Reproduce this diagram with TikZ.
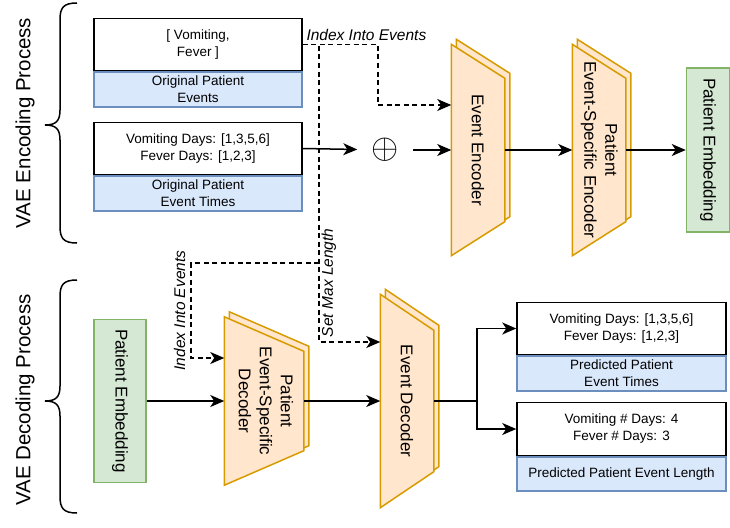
\documentclass[tikz,border=0pt]{standalone}
\usepackage{fontspec}
\setmainfont{Liberation Sans}
\usetikzlibrary{arrows.meta,positioning,backgrounds}
\definecolor{orfill}{HTML}{FFE6CC}
\definecolor{ordraw}{HTML}{D79B00}
\definecolor{blfill}{HTML}{DAE8FC}
\definecolor{bldraw}{HTML}{6C8EBF}
\definecolor{grfill}{HTML}{D5E8D4}
\definecolor{grdraw}{HTML}{82B366}
\begin{document}
\begin{tikzpicture}[x=1pt, y=-1pt, >={Stealth[length=14pt,width=12pt,inset=4pt]}, line width=1.5pt,
		small/.style={font=\fontsize{13.5}{17}\selectfont},
		valbox/.style={small, draw, fill=white, minimum width=208pt, minimum height=52pt, align=center, inner sep=0pt},
		namebox/.style={small, draw=bldraw, fill=blfill, minimum width=208pt, minimum height=35pt, align=center, inner sep=0pt},
		embbox/.style={draw=grdraw, fill=grfill, font=\fontsize{17}{21}\selectfont, inner sep=0pt},
		stackbox/.style={font=\fontsize{17}{21}\selectfont, inner sep=0pt},
		stack/.style={fill=orfill, draw=ordraw, line width=1.5pt},
		stackback/.style={stack, transform canvas={xshift=5pt, yshift=5pt}},
		hint/.style={font=\fontsize{15.5}{18}\selectfont\itshape, inner sep=3pt},
		hintline/.style={dash pattern=on 5pt off 3.5pt},
		side/.style={font=\fontsize{20.5}{24}\selectfont, rotate=90}]
	\useasboundingbox (0,0) rectangle (730,527);

	\draw (77,3) .. controls (63,3) and (60,8) .. (60,20) -- (60,110) .. controls (60,121) and (56,125) .. (45,125) .. controls (56,125) and (60,129) .. (60,140) -- (60,226) .. controls (60,238) and (63,243) .. (77,243);
	\node[side] (enclbl) at (25,123) {VAE Encoding Process};
	\draw (77,280) .. controls (63,280) and (60,285) .. (60,297) -- (60,386) .. controls (60,397) and (56,401) .. (45,401) .. controls (56,401) and (60,405) .. (60,416) -- (60,496) .. controls (60,508) and (63,513) .. (77,513);
	\node[side] (declbl) at (25,400) {VAE Decoding Process};

	\node[namebox] (evtsl) at (198,89.5) {Original Patient\\Events};
	\node[valbox, above=0pt of evtsl] (evts) {[ Vomiting,\\Fever ]};
	\node[namebox] (timesl) at (198,193.5) {Original Patient\\Event Times};
	\node[valbox, above=0pt of timesl] (times) {Vomiting Days: [1,3,5,6]\\Fever Days: [1,2,3]};

	\node[inner sep=0pt, minimum width=54pt, minimum height=20pt] (sum) at (385,150) {\scalebox{3.5}{$\oplus$}};
	\node[stackbox, minimum width=52pt, minimum height=210pt] (enc) at (478,150) {\rotatebox{-90}{Event Encoder}};
	\node[stackbox, minimum width=52pt, minimum height=210pt] (penc) at (599,150) {\rotatebox{-90}{\begin{tabular}{@{}c@{}}Patient\\Event-Specific Encoder\end{tabular}}};
	\node[embbox, minimum width=43pt, minimum height=164pt] (embA) at (708,150) {\rotatebox{-90}{Patient Embedding}};

	\node[embbox, minimum width=52pt, minimum height=163pt] (embB) at (120,401) {\rotatebox{-90}{Patient Embedding}};
	\node[stackbox, minimum width=78pt, minimum height=167pt] (pdec) at (264,401) {\rotatebox{-90}{\begin{tabular}{@{}c@{}}Patient\\Event-Specific\\Decoder\end{tabular}}};
	\node[stackbox, minimum width=52pt, minimum height=212pt] (dec) at (407,401) {\rotatebox{-90}{Event Decoder}};

	\node[namebox, minimum width=209pt] (predtl) at (621.5,373.5) {Predicted Patient\\Event Times};
	\node[valbox, minimum width=209pt, above=0pt of predtl] (predt) {Vomiting Days: [1,3,5,6]\\Fever Days: [1,2,3]};
	\node[namebox, minimum width=209pt, minimum height=34pt] (predll) at (621.5,474) {Predicted Patient Event Length};
	\node[valbox, minimum width=209pt, minimum height=53pt, above=0pt of predll] (predl) {Vomiting \# Days: 4\\Fever \# Days: 3};

	\begin{scope}[on background layer]
		\filldraw[stackback] (enc.north west) -- ([yshift=-34pt]enc.north east) -- ([yshift=34pt]enc.south east) -- (enc.south west) -- cycle;
		\filldraw[stack] (enc.north west) -- ([yshift=-34pt]enc.north east) -- ([yshift=34pt]enc.south east) -- (enc.south west) -- cycle;
		\filldraw[stackback] (penc.north west) -- ([yshift=-34pt]penc.north east) -- ([yshift=34pt]penc.south east) -- (penc.south west) -- cycle;
		\filldraw[stack] (penc.north west) -- ([yshift=-34pt]penc.north east) -- ([yshift=34pt]penc.south east) -- (penc.south west) -- cycle;
		\filldraw[stackback] (pdec.north west) -- ([yshift=-34.5pt]pdec.north east) -- ([yshift=34.5pt]pdec.south east) -- (pdec.south west) -- cycle;
		\filldraw[stack] (pdec.north west) -- ([yshift=-34.5pt]pdec.north east) -- ([yshift=34.5pt]pdec.south east) -- (pdec.south west) -- cycle;
		\filldraw[stackback] (dec.north west) -- ([yshift=-36pt]dec.north east) -- ([yshift=36pt]dec.south east) -- (dec.south west) -- cycle;
		\filldraw[stack] (dec.north west) -- ([yshift=-36pt]dec.north east) -- ([yshift=36pt]dec.south east) -- (dec.south west) -- cycle;
	\end{scope}

	\coordinate (idx) at (319,46);
	\coordinate (idxb) at (319,263);
	\draw[hintline, ->] (evts.east) -- node[hint, anchor=south west, pos=0] (idxlbl) {Index Into Events} ++(75,0) |- ([yshift=45pt]enc.west);
	\draw[hintline, ->] (idx) |- node[hint, inner sep=2pt, rotate=90, anchor=north, pos=0.4] (lenlbl) {Set Max Length} ([yshift=59pt]dec.west);
	\draw[hintline, ->] (idxb) -- ++(-128,0) |- node[hint, inner sep=5pt, rotate=90, anchor=south, pos=0.25] (idxlbl2) {Index Into Events} ([yshift=43pt]pdec.west);

	\draw[->] (times.east) -- (sum);
	\draw[->] (sum) -- (enc);
	\draw[->] (enc) -- (penc);
	\draw[->] (penc) -- (embA);
	\draw[->] (embB) -- (pdec);
	\draw[->] (pdec) -- (dec);
	\draw[->] (dec.east) -- ++(43,0) |- (predt);
	\draw[->] (dec.east) -- ++(43,0) |- (predl);
\end{tikzpicture}
\end{document}
